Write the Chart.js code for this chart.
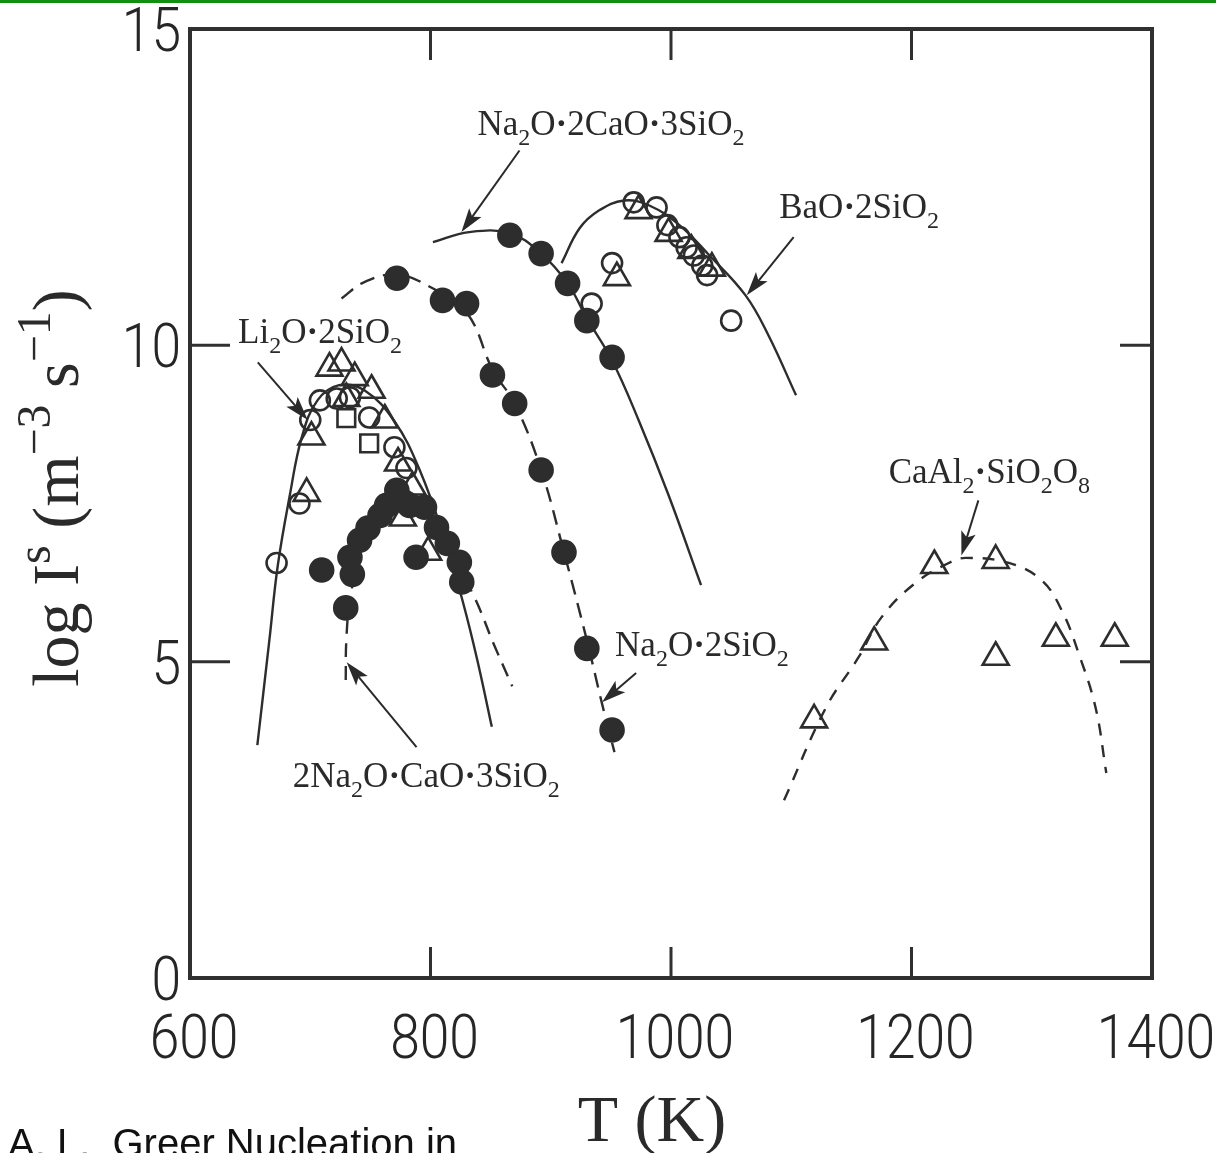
<!DOCTYPE html>
<html>
<head>
<meta charset="utf-8">
<script src="https://cdn.jsdelivr.net/npm/chart.js@4/dist/chart.umd.min.js"></script>
<style>
html, body { margin: 0; padding: 0; background: #fff; }
#wrap { width: 1216px; height: 1153px; position: relative; }
</style>
</head>
<body>
<div id="wrap"><canvas id="chart"></canvas></div>
<script>
// axis ticks
const tTicks = [600, 800, 1000, 1200, 1400];
const logITicks = [0, 5, 10, 15];

// Li2O.2SiO2
const li2oCurveT = [656, 666, 673, 683, 693, 706, 724, 745, 770, 791, 812, 827, 839, 851];
const li2oCurveLogI = [3.68, 5.34, 6.52, 7.63, 8.55, 9.13, 9.37, 9.29, 8.8, 8.03, 6.92, 5.94, 5.02, 3.97];
const li2oTriT = [716, 726, 737, 751, 730, 762, 701, 697, 773, 785, 777, 798];
const li2oTriLogI = [9.64, 9.72, 9.49, 9.29, 9.16, 8.82, 8.55, 7.66, 8.14, 7.76, 7.27, 6.73];
const li2oCircT = [708, 722, 733, 700, 749, 770, 780, 691, 672];
const li2oCircLogI = [9.13, 9.16, 9.18, 8.82, 8.86, 8.39, 8.06, 7.5, 6.56];
const li2oSqT = [730, 749];
const li2oSqLogI = [8.85, 8.45];

// 2Na2O.CaO.3SiO2
const n2cCurveT = [729.5, 730, 733, 741, 753.5, 770, 787, 803, 820, 836.5, 853, 868];
const n2cCurveLogI = [4.71, 5.34, 5.97, 6.68, 7.31, 7.71, 7.63, 7.24, 6.6, 6.02, 5.26, 4.61];
const n2cT = [709.5, 729.5, 735, 733, 741, 748, 758, 763.5, 772, 782.6, 795, 805, 814, 824, 826, 788];
const n2cLogI = [6.45, 5.85, 6.38, 6.65, 6.92, 7.11, 7.31, 7.47, 7.71, 7.47, 7.44, 7.12, 6.87, 6.57, 6.26, 6.65];

// Na2O.2SiO2
const n2sCurveT = [726, 745, 772, 799, 830, 852, 870, 892, 911, 930, 944, 953];
const n2sCurveLogI = [10.74, 11.0, 11.12, 10.93, 10.52, 9.6, 9.08, 8.03, 6.73, 5.34, 4.23, 3.57];
const n2sT = [772, 810, 830, 851.5, 870, 892, 911, 930, 951];
const n2sLogI = [11.06, 10.71, 10.66, 9.53, 9.08, 8.03, 6.73, 5.21, 3.92];

// Na2O.2CaO.3SiO2
const n2caCurveT = [802, 832, 866, 892, 914, 930, 951, 973, 998, 1025];
const n2caCurveLogI = [11.63, 11.79, 11.77, 11.45, 10.98, 10.43, 9.76, 8.82, 7.63, 6.21];
const n2caT = [866, 892, 914, 930, 951];
const n2caLogI = [11.74, 11.45, 10.98, 10.39, 9.81];

// BaO.2SiO2
const baoCurveT = [909, 924, 940, 961, 982, 1007, 1032, 1062, 1081, 1104];
const baoCurveLogI = [11.3, 11.85, 12.13, 12.29, 12.21, 11.9, 11.42, 10.79, 10.16, 9.21];
const baoCircT = [969, 988, 997, 1007, 1013, 1019, 1026, 1030, 951, 934, 1050];
const baoCircLogI = [12.26, 12.18, 11.9, 11.71, 11.55, 11.42, 11.26, 11.11, 11.3, 10.66, 10.39];
const baoTriT = [973, 998, 1017, 1034, 955];
const baoTriLogI = [12.13, 11.77, 11.5, 11.22, 11.07];

// CaAl2.SiO2O8
const caalCurveT = [1094, 1129, 1156, 1175, 1203, 1231, 1245, 1281, 1308, 1325, 1339, 1353, 1362];
const caalCurveLogI = [2.81, 4.28, 5.07, 5.7, 6.24, 6.56, 6.64, 6.56, 6.29, 5.81, 5.13, 4.28, 3.24];
const caalTriT = [1119, 1169, 1219, 1270, 1270, 1320, 1369];
const caalTriLogI = [4.08, 5.31, 6.52, 6.6, 5.07, 5.37, 5.37];

// curve labels (text left / baseline, in data units) and arrows [from -> to]
const labelText = ['Na_2O·2CaO·3SiO_2', 'BaO·2SiO_2', 'Li_2O·2SiO_2', 'CaAl_2·SiO_2O_8', 'Na_2O·2SiO_2', '2Na_2O·CaO·3SiO_2'];
const labelT = [839, 1090, 640, 1181, 953.5, 685.5];
const labelLogI = [13.32, 12.01, 10.03, 7.82, 5.09, 3.02];
const arrows = [
	[874, 13.08, 825.7, 11.79],
	[1102, 11.71, 1063, 10.79],
	[656.4, 9.73, 697.9, 8.82],
	[1255.6, 7.55, 1241.5, 6.68],
	[971, 4.82, 942.7, 4.36],
	[788.4, 3.65, 730.3, 4.99]
];

const ink = '#2d2d2d';

function pts(xs, ys) {
	return xs.map((x, i) => ({x: x, y: ys[i]}));
}

function curve(xs, ys, dash) {
	return {
		type: 'line', data: pts(xs, ys), showLine: true, borderColor: ink,
		borderWidth: 2.4, borderDash: dash || [], pointRadius: 0, tension: 0.4, fill: false
	};
}

function marks(xs, ys, style, r, filled) {
	return {
		type: 'scatter', data: pts(xs, ys), pointStyle: style, pointRadius: r,
		pointBorderColor: ink, pointBorderWidth: 2.6,
		pointBackgroundColor: filled ? ink : 'rgba(0,0,0,0)'
	};
}

// text with _x subscripts and ^x superscripts
function rich(ctx, str, x, y, size, family, draw) {
	let cx = x;
	for (let i = 0; i < str.length; i++) {
		let ch = str[i], dy = 0, s = size, w = '';
		if (ch === '_') { ch = str[++i]; s = size * 0.68; dy = size * 0.28; }
		else if (ch === '^') { ch = str[++i]; s = size * 0.72; dy = -size * 0.42; }
		if (ch === '·') w = 'bold ';
		ctx.font = w + Math.round(s) + 'px ' + family;
		if (draw) ctx.fillText(ch, cx, y + dy);
		cx += ctx.measureText(ch).width;
	}
	return cx - x;
}

function arrow(ctx, x1, y1, x2, y2) {
	const a = Math.atan2(y2 - y1, x2 - x1), c = Math.cos(a), s = Math.sin(a);
	const L = 24, W = 7.5;
	ctx.beginPath();
	ctx.moveTo(x1, y1);
	ctx.lineTo(x2 - L * 0.7 * c, y2 - L * 0.7 * s);
	ctx.stroke();
	ctx.beginPath();
	ctx.moveTo(x2, y2);
	ctx.lineTo(x2 - L * c + W * s, y2 - L * s - W * c);
	ctx.lineTo(x2 - L * 0.78 * c, y2 - L * 0.78 * s);
	ctx.lineTo(x2 - L * c - W * s, y2 - L * s + W * c);
	ctx.closePath();
	ctx.fill();
}

const decor = {
	id: 'decor',
	afterDatasetsDraw(chart) {
		const ctx = chart.ctx, xs = chart.scales.x, ys = chart.scales.y;
		const a = chart.chartArea;
		ctx.save();
		// top green rule
		ctx.fillStyle = '#0f8f0f';
		ctx.fillRect(0, 0, chart.width, 3);
		// frame
		ctx.strokeStyle = '#303030';
		ctx.lineWidth = 4;
		ctx.strokeRect(a.left, a.top, a.right - a.left, a.bottom - a.top);
		// inner ticks
		ctx.lineWidth = 3;
		ctx.beginPath();
		tTicks.slice(1, -1).forEach((t) => {
			const px = xs.getPixelForValue(t);
			ctx.moveTo(px, a.top); ctx.lineTo(px, a.top + 31);
			ctx.moveTo(px, a.bottom); ctx.lineTo(px, a.bottom - 31);
		});
		logITicks.slice(1, -1).forEach((v) => {
			const py = ys.getPixelForValue(v);
			ctx.moveTo(a.left, py); ctx.lineTo(a.left + 40, py);
			ctx.moveTo(a.right, py); ctx.lineTo(a.right - 32, py);
		});
		ctx.stroke();
		// tick labels (thin, narrow sans)
		ctx.fillStyle = '#262626';
		ctx.font = '300 62px Roboto, "Liberation Sans", sans-serif';
		ctx.textBaseline = 'alphabetic';
		const sx = 0.86;
		tTicks.forEach((t) => {
			const px = xs.getPixelForValue(t), w = ctx.measureText(String(t)).width * sx;
			ctx.save(); ctx.translate(px - w / 2 + 4, 1058); ctx.scale(sx, 1);
			ctx.fillText(String(t), 0, 0); ctx.restore();
		});
		logITicks.forEach((v) => {
			const py = ys.getPixelForValue(v), w = ctx.measureText(String(v)).width * sx;
			ctx.save(); ctx.translate(181 - w, py + 22); ctx.scale(sx, 1);
			ctx.fillText(String(v), 0, 0); ctx.restore();
		});
		// curve labels and arrows
		ctx.fillStyle = '#2a2a2a';
		labelText.forEach((s, i) => {
			rich(ctx, s, xs.getPixelForValue(labelT[i]), ys.getPixelForValue(labelLogI[i]), 35, '"Liberation Serif", serif', true);
		});
		ctx.strokeStyle = '#2a2a2a';
		ctx.lineWidth = 2;
		arrows.forEach((r) => {
			arrow(ctx, xs.getPixelForValue(r[0]), ys.getPixelForValue(r[1]), xs.getPixelForValue(r[2]), ys.getPixelForValue(r[3]));
		});
		// axis titles
		const serif = '"Liberation Serif", serif';
		let w = rich(ctx, 'T (K)', 0, 0, 66, serif, false);
		rich(ctx, 'T (K)', 652 - w / 2, 1141, 66, serif, true);
		const yt = 'log I^s (m^−^3 s^−^1)';
		w = rich(ctx, yt, 0, 0, 66, serif, false);
		ctx.save();
		ctx.translate(78, 488);
		ctx.rotate(-Math.PI / 2);
		rich(ctx, yt, -w / 2, 0, 66, serif, true);
		ctx.restore();
		// source note
		ctx.font = '40px "Liberation Sans", Arial, sans-serif';
		ctx.fillStyle = '#111';
		ctx.fillText('A. L.  Greer Nucleation in', 8, 1157);
		ctx.restore();
	}
};

document.addEventListener('DOMContentLoaded', () => {
	new Chart(document.getElementById('chart'), {
		type: 'scatter',
		data: {
			datasets: [
				marks(n2sT, n2sLogI, 'circle', 11.5, true),
				marks(n2caT, n2caLogI, 'circle', 11.5, true),
				marks(n2cT, n2cLogI, 'circle', 11.5, true),
				marks(li2oTriT, li2oTriLogI, 'triangle', 15, false),
				marks(li2oCircT, li2oCircLogI, 'circle', 10, false),
				marks(li2oSqT, li2oSqLogI, 'rect', 12.5, false),
				marks(baoCircT, baoCircLogI, 'circle', 10, false),
				marks(baoTriT, baoTriLogI, 'triangle', 15, false),
				marks(caalTriT, caalTriLogI, 'triangle', 15, false),
				curve(li2oCurveT, li2oCurveLogI),
				curve(n2cCurveT, n2cCurveLogI, [14, 9]),
				curve(n2sCurveT, n2sCurveLogI, [15, 9]),
				curve(n2caCurveT, n2caCurveLogI),
				curve(baoCurveT, baoCurveLogI),
				curve(caalCurveT, caalCurveLogI, [12, 10])
			]
		},
		options: {
			responsive: true,
			maintainAspectRatio: false,
			animation: false,
			layout: {padding: {left: 190, right: 64, top: 29, bottom: 175}},
			scales: {
				x: {type: 'linear', min: 600, max: 1400, display: false},
				y: {type: 'linear', min: 0, max: 15, display: false}
			},
			plugins: {
				legend: {display: false},
				tooltip: {enabled: false}
			}
		},
		plugins: [decor]
	});
});
</script>
</body>
</html>
